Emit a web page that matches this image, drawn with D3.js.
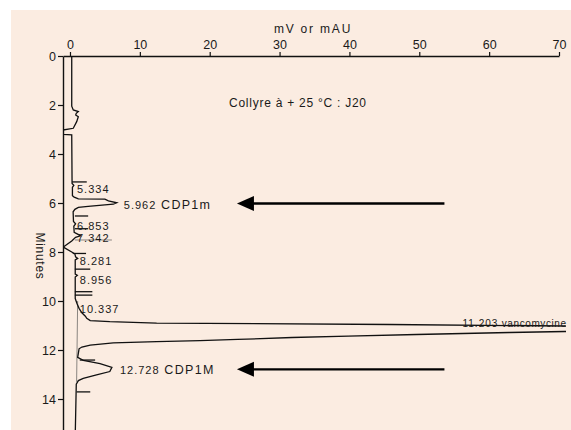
<!DOCTYPE html>
<html>
<head>
<meta charset="utf-8">
<script src="https://cdn.jsdelivr.net/npm/d3@7"></script>
<style>
  body { margin: 0; background: #fff; }
  svg text { font-family: "Liberation Sans", Arial, sans-serif; fill: #1a1a1a; }
</style>
</head>
<body>
<div id="chart"></div>
<script>
// chromatogram trace (time in minutes, signal in mV)
const traceTime = [0.00, 2.05, 2.20, 2.27, 2.34, 2.41, 2.48, 2.68, 2.95, 3.02, 3.20, 3.22,
  5.20, 5.28, 5.36, 5.70, 5.76, 5.83, 5.84, 5.91, 5.99, 6.05, 6.08, 6.14, 6.18, 6.26, 6.36,
  6.75, 6.85, 6.95, 7.20, 7.30, 7.34, 7.40, 7.55, 7.80, 8.00, 8.08, 8.20, 8.26, 8.32,
  8.90, 8.95, 9.02, 9.90, 10.10, 10.30, 10.48, 10.62, 10.71, 10.80, 10.845, 10.90, 10.96,
  11.02, 11.20, 11.245, 11.286, 11.367, 11.43, 11.49, 11.57, 11.62, 11.66, 11.71, 11.80,
  11.88, 11.95, 12.13, 12.30, 12.42, 12.56, 12.71, 12.88, 13.02, 13.16, 13.25, 13.40, 15.50];
const traceSignal = [0.25, 0.25, 0.47, 1.19, 0.90, 0.82, 1.19, 0.96, 0.47, -1.0, -1.0, 0.25,
  0.30, 0.55, 0.35, 0.35, 0.60, 1.20, 5.00, 5.50, 6.70, 6.20, 5.00, 2.60, 1.20, 0.70, 0.45,
  0.50, 0.80, 0.55, 0.60, 1.30, 1.50, 0.80, 0.25, -0.95, 0.25, 0.70, 0.80, 1.10, 0.75,
  0.75, 1.05, 0.75, 0.75, 1.00, 1.30, 1.70, 2.20, 2.40, 2.90, 5.70, 12.4, 45.8,
  70.8, 85.0, 70.8, 62.9, 49.6, 39.8, 31.8, 24.0, 18.6, 12.4, 6.2, 2.9,
  1.70, 1.30, 1.20, 1.10, 1.90, 4.30, 6.00, 5.70, 3.80, 1.90, 1.20, 0.90, 0.75];

// integration markers: time, from signal, to signal
const markerTime = [5.14, 6.53, 7.05, 8.06, 8.70, 9.62, 9.76, 12.41, 13.71];
const markerFrom = [0.3, 0.7, 0.7, 0.4, 0.7, 0.7, 0.7, 1.4, 0.95];
const markerTo   = [2.4, 2.6, 2.6, 2.3, 2.9, 3.2, 3.2, 3.6, 2.9];

// grey baselines: [t1, v1, t2, v2]
const baselines = [[10.0, 1.1, 13.3, 0.95], [7.51, 0.7, 7.51, 6.0]];

// peak labels
const peakTimes = [5.334, 5.962, 6.853, 7.342, 8.281, 8.956, 10.337, 11.203, 12.728];
const peakNames = ["", "CDP1m", "", "", "", "", "", "vancomycine", "CDP1M"];

const xTicks = [0, 10, 20, 30, 40, 50, 60, 70];
const yTicks = [0, 2, 4, 6, 8, 10, 12, 14];
const arrowPeaks = [5.962, 12.728];

const width = 571, height = 430;

const x = d3.scaleLinear().domain([-1, 70]).range([63, 559]);
const y = d3.scaleLinear().domain([0, 15.5]).range([56, 56 + 24.5 * 15.5]);

const svg = d3.select("#chart").append("svg")
    .attr("width", width)
    .attr("height", height);

svg.append("rect")
    .attr("x", 11).attr("y", 10)
    .attr("width", width - 11).attr("height", height - 10)
    .attr("fill", "#fbece1");

svg.append("clipPath").attr("id", "plot-clip")
  .append("rect")
    .attr("x", 63).attr("y", 56)
    .attr("width", 503).attr("height", height - 56);

// axes
const xAxis = svg.append("g")
    .attr("transform", `translate(0,${y(0)})`)
    .call(d3.axisTop(x).tickValues(xTicks).tickSize(4).tickSizeOuter(0).tickPadding(3));

const yAxis = svg.append("g")
    .attr("transform", `translate(${x(-1)},0)`)
    .call(d3.axisLeft(y).tickValues(yTicks).tickSize(5).tickSizeOuter(0).tickPadding(2));

[xAxis, yAxis].forEach(g => {
  g.select(".domain").attr("stroke", "#111").attr("stroke-width", 1.4);
  g.selectAll(".tick line").attr("stroke", "#111").attr("stroke-width", 1.2);
  g.selectAll(".tick text")
      .attr("fill", "#1a1a1a")
      .style("font-family", "'Liberation Sans', Arial, sans-serif")
      .style("font-size", "12.5px");
});

svg.append("text")
    .attr("x", 313).attr("y", 33)
    .attr("text-anchor", "middle")
    .style("font-size", "12px")
    .style("letter-spacing", "1.8px")
    .text("mV or mAU");

svg.append("text")
    .attr("transform", "translate(36,256) rotate(90)")
    .attr("text-anchor", "middle")
    .style("font-size", "12px")
    .style("letter-spacing", "0.7px")
    .text("Minutes");

svg.append("text")
    .attr("x", 229).attr("y", 107)
    .style("font-size", "12px")
    .style("letter-spacing", "0.75px")
    .text("Collyre à + 25 °C : J20");

// trace
const plot = svg.append("g").attr("clip-path", "url(#plot-clip)");

const points = traceTime.map((t, i) => [t, traceSignal[i]]);
const line = d3.line().x(d => x(d[1])).y(d => y(d[0]));

plot.selectAll(".baseline")
    .data(baselines)
    .join("line")
    .attr("class", "baseline")
    .attr("x1", d => x(d[1])).attr("y1", d => y(d[0]))
    .attr("x2", d => x(d[3])).attr("y2", d => y(d[2]))
    .attr("stroke", "#8a8580")
    .attr("stroke-width", 1);

plot.append("path")
    .datum(points)
    .attr("d", line)
    .attr("fill", "none")
    .attr("stroke", "#111")
    .attr("stroke-width", 1.3);

plot.selectAll(".marker")
    .data(markerTime)
    .join("line")
    .attr("class", "marker")
    .attr("x1", (d, i) => x(markerFrom[i]))
    .attr("x2", (d, i) => x(markerTo[i]))
    .attr("y1", d => y(d)).attr("y2", d => y(d))
    .attr("stroke", "#111")
    .attr("stroke-width", 1.3);

// labels: x position (in mV) and vertical nudge
const labelMv = [1.0, 7.7, 1.0, 1.0, 1.4, 1.4, 1.4, 71.1, 7.15];
const labelDy = [1, 1, 0.5, 1, 1, 2.5, -2, -9.5, 1];

const labels = svg.selectAll(".peak-label")
    .data(peakTimes)
    .join("text")
    .attr("class", "peak-label")
    .attr("x", (d, i) => x(labelMv[i]))
    .attr("y", (d, i) => y(d) + labelDy[i])
    .attr("dy", "0.35em")
    .attr("text-anchor", (d, i) => i === 7 ? "end" : "start");

labels.append("tspan")
    .style("font-size", (d, i) => i === 7 ? "10px" : "11px")
    .style("letter-spacing", "1px")
    .text(d => d.toFixed(3));

labels.filter((d, i) => peakNames[i] !== "")
  .append("tspan")
    .style("font-size", (d) => peakNames[peakTimes.indexOf(d)] === "vancomycine" ? "10px" : "12.5px")
    .style("letter-spacing", (d) => peakNames[peakTimes.indexOf(d)] === "vancomycine" ? "0.6px" : "1.3px")
    .text(d => " " + peakNames[peakTimes.indexOf(d)]);

// arrows pointing at the two degradation peaks
const arrowTip = 23.9, arrowTail = 53.6;
const arrows = svg.selectAll(".arrow")
    .data(arrowPeaks)
    .join("g")
    .attr("class", "arrow");

arrows.append("line")
    .attr("x1", x(arrowTail)).attr("x2", x(arrowTip) + 12)
    .attr("y1", d => y(d) + 1.5).attr("y2", d => y(d) + 1.5)
    .attr("stroke", "#000")
    .attr("stroke-width", 2.4);

arrows.append("path")
    .attr("d", d => {
      const tx = x(arrowTip), ty = y(d) + 1.5;
      return `M${tx},${ty}L${tx + 17},${ty - 7.5}L${tx + 17},${ty + 7.5}Z`;
    })
    .attr("fill", "#000");
</script>
</body>
</html>
